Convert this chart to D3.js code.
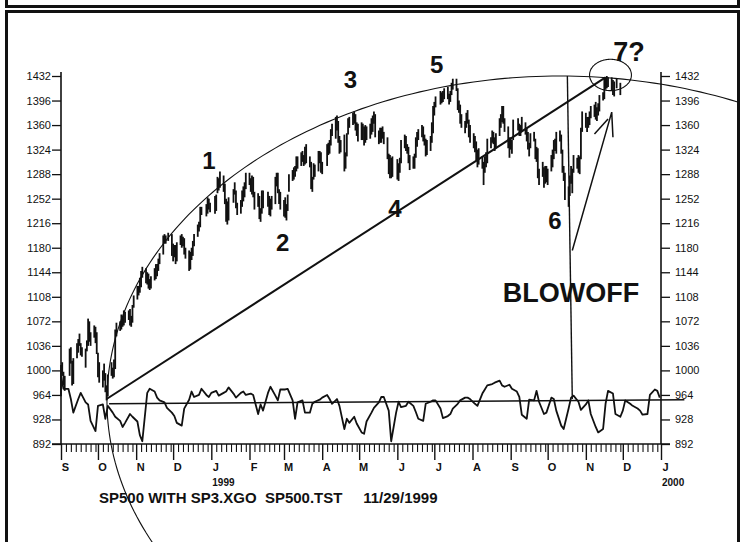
<!DOCTYPE html>
<html>
<head>
<meta charset="utf-8">
<script src="https://cdn.jsdelivr.net/npm/d3@7"></script>
<style>
  body { margin: 0; background: #fff; }
  svg { display: block; }
  text { font-family: 'Liberation Sans Narrow', 'Arial Narrow', 'Liberation Sans', Arial, sans-serif; fill: #111; }
</style>
</head>
<body>
<div id="chart"></div>
<script>
(function(d3) {
  'use strict';

  // daily highs / lows, Sep 1998 - Dec 1998 (one line per month)
  var hi98 = [
    1008,1012,998,992,1032,1034,1014,1018,1040,1046,1054,1040,1034,1032,1044,1076,1072,1056,1066,1064,1056,
    1026,1012,1000,1010,996,978,994,1012,1004,1016,1060,1070,1072,1082,1080,1088,1086,1088,1090,1080,1096,1110,
    1124,1124,1136,1146,1152,1150,1144,1142,1134,1138,1150,1156,1156,1164,1172,1198,1200,1198,1202,1200,
    1186,1184,1184,1188,1198,1200,1196,1194,1180,1176,1174,1180,1190,1200,1214,1218,1240,1240,1244,1254,1252,1246
  ];
  var lo98 = [
    962,992,978,970,992,1010,978,980,1018,1026,1036,1022,1020,1004,1028,1036,1042,1036,1048,1040,1024,
    990,982,975,985,968,956,962,992,988,990,1002,1050,1058,1060,1064,1066,1070,1074,1066,1064,1070,1092,
    1104,1110,1114,1122,1136,1128,1126,1120,1118,1120,1132,1134,1138,1146,1156,1170,1186,1186,1190,1168,
    1160,1166,1156,1160,1184,1180,1182,1170,1164,1146,1148,1162,1168,1182,1196,1204,1210,1228,1226,1230,1236,1232
  ];
  // daily highs / lows, Jan 1999 - Nov 1999
  var hi99 = [
    1256,1258,1284,1282,1292,1286,1274,1252,1248,1254,1266,1276,1264,1246,1250,1264,1270,1276,1290,
    1290,1282,1286,1284,1262,1260,1256,1238,1264,1264,1262,1256,1252,1256,1284,1290,1290,1266,1262,
    1250,1254,1244,1258,1288,1294,1298,1300,1314,1314,1320,1322,1316,1328,1332,1314,1306,1284,1304,1302,1322,1322,1320,
    1306,1332,1334,1338,1354,1362,1372,1374,1366,1344,1338,1346,1320,1348,1370,1372,1378,1380,1376,1364,1362,
    1364,1362,1358,1360,1358,1362,1370,1374,1380,1376,1352,1356,1356,1358,1350,1342,1318,1316,1312,1314,
    1310,1304,1312,1338,1346,1344,1332,1328,1316,1314,1318,1342,1350,1354,1360,1358,1346,1340,1338,1344,1364,1388,
    1394,1402,1410,1408,1410,1414,1416,1406,1410,1422,1428,1428,1414,1396,1390,1376,1366,1378,1382,1368,1360,
    1348,1344,1336,1324,1326,1314,1306,1314,1320,1340,1342,1352,1350,1342,1348,1370,1376,1388,1388,1370,1358,1342,
    1342,1338,1368,1370,1362,1360,1372,1364,1356,1350,1334,1348,1350,1340,1328,1326,1296,1306,1298,1300,1300,
    1296,1316,1324,1338,1340,1350,1352,1346,1324,1300,1290,1270,1286,1300,1296,1316,1312,1316,1314,1356,1380,
    1378,1372,1372,1380,1388,1390,1394,1386,1392,1404,1408,1428,1430,1432,1430,1430,1426,1424,1428,1422
  ];
  var lo99 = [
    1230,1234,1260,1264,1268,1262,1244,1218,1214,1220,1246,1258,1238,1228,1230,1240,1248,1254,1266,
    1272,1262,1258,1254,1236,1240,1222,1218,1230,1238,1240,1228,1226,1236,1244,1270,1260,1244,1236,
    1226,1224,1220,1234,1262,1278,1280,1284,1292,1296,1300,1306,1300,1302,1304,1298,1266,1262,1280,1284,1292,1304,1290,
    1288,1300,1316,1318,1330,1344,1340,1352,1334,1318,1320,1292,1296,1314,1346,1356,1360,1362,1352,1344,1336,
    1338,1338,1330,1334,1338,1340,1346,1350,1362,1342,1332,1334,1334,1340,1332,1310,1288,1282,1282,1284,
    1280,1278,1290,1304,1326,1322,1318,1304,1294,1296,1296,1312,1328,1338,1342,1336,1330,1314,1316,1322,1334,1348,
    1374,1386,1390,1392,1394,1398,1398,1390,1394,1404,1412,1410,1382,1378,1362,1356,1348,1356,1362,1342,1334,
    1326,1320,1308,1298,1302,1296,1272,1290,1298,1304,1326,1334,1332,1322,1326,1344,1356,1364,1362,1350,1326,1312,
    1324,1318,1338,1352,1344,1344,1350,1346,1336,1324,1314,1326,1336,1310,1306,1282,1272,1284,1268,1274,1276,
    1272,1292,1298,1310,1322,1318,1336,1318,1290,1278,1250,1240,1256,1274,1260,1290,1296,1290,1288,1310,1350,
    1356,1350,1356,1360,1370,1372,1368,1366,1374,1380,1396,1398,1412,1414,1416,1410,1404,1402,1414,1404
  ];
  var holidays = ['1998-09-07','1998-11-26','1998-12-25','1999-01-01','1999-01-18','1999-02-15',
                  '1999-04-02','1999-05-31','1999-07-05','1999-09-06','1999-11-25'];

  // oscillator, one value every second weekday, Sep 1 1998 - Dec 31 1999
  var osc = [
    992,973,973,958,938,958,967,953,950,926,911,948,950,929,948,938,932,926,917,923,
    936,932,925,905,896,967,973,969,960,956,953,945,938,933,923,919,944,957,969,961,
    964,973,964,961,967,970,963,967,969,975,966,960,967,969,964,966,964,936,950,941,
    967,976,963,956,972,972,973,956,929,953,956,938,938,951,954,957,960,964,958,951,
    958,948,914,929,923,932,922,909,907,925,938,945,953,961,961,941,896,938,954,946,
    948,954,948,939,929,926,951,954,956,956,944,930,933,936,944,951,956,960,960,958,
    951,948,966,972,978,980,982,985,978,976,979,973,969,961,935,929,957,956,970,954,
    936,938,960,958,941,919,914,944,960,963,954,942,950,956,936,917,909,914,951,970,
    966,936,932,941,956,951,948,944,941,935,936,964,972,970,960
  ];

  var yTicks = [892,928,964,1000,1036,1072,1108,1144,1180,1216,1252,1288,1324,1360,1396,1432];
  var monthLetters = ['S','O','N','D','J','F','M','A','M','J','J','A','S','O','N','D','J'];
  var yearLabels = ['1999','2000'];
  var yearDates = ['1999-01-01','2000-01-01'];

  // hand drawn annotations, in date / price units
  var waveText = ['1','2','3','4','5','6','7?'];
  var waveDates = ['1998-12-30','1999-02-28','1999-04-24','1999-05-30','1999-07-03','1999-10-07','1999-12-06'];
  var waveValues = [1295,1175,1414,1225,1436,1208,1454];
  var trendLine = [['1998-10-08',958],['1999-11-17',1430]];
  var baseLine = [['1998-10-10',951],['2000-01-20',957]];
  var blowoffLine = [['1999-10-17',1432],['1999-10-21',958]];
  var arrowLine = [['1999-10-21',1176],['1999-11-22',1379],['1999-11-23',1342]];
  var arrowTick = [['1999-11-08',1347],['1999-11-19',1369]];
  var bigArc = { date: '1999-10-11', value: 955.5, days: 367.7, points: 476.5 };
  var topRing = { date: '1999-11-21', value: 1433.5, days: 17, points: 23 };

  var width = 745;
  var height = 542;
  var parse = d3.timeParse('%Y-%m-%d');
  var fmt = d3.timeFormat('%Y-%m-%d');
  var narrow = "'Liberation Sans Narrow','Arial Narrow','Liberation Sans',Arial,sans-serif";

  var svg = d3.select('#chart')
    .append('svg')
    .attr('width', width)
    .attr('height', height);

  svg.append('rect').attr('width', width).attr('height', height).attr('fill', '#fff');

  svg.append('defs').append('clipPath').attr('id', 'panel')
    .append('rect').attr('x', 8).attr('y', 13).attr('width', 729).attr('height', 540);

  // page frames
  svg.append('rect')
    .attr('x', 6.5).attr('y', -12).attr('width', 732).attr('height', 18.5)
    .attr('fill', 'none').attr('stroke', '#111').attr('stroke-width', 3);
  svg.append('rect')
    .attr('x', 6.5).attr('y', 11.5).attr('width', 732).attr('height', 545)
    .attr('fill', 'none').attr('stroke', '#111').attr('stroke-width', 3);

  var x = d3.scaleTime()
    .domain([new Date(1998, 8, 1), new Date(2000, 0, 1)])
    .range([61, 661]);
  var y = d3.scaleLinear()
    .domain([892, 1432])
    .range([444, 76]);

  // trading days
  var tradeDays = d3.timeDays(new Date(1998, 8, 1), new Date(1999, 10, 30))
    .filter(function(d) {
      var w = d.getDay();
      return w > 0 && w < 6 && holidays.indexOf(fmt(d)) < 0;
    });
  var highs = hi98.concat(hi99);
  var lows = lo98.concat(lo99);
  var bars = tradeDays.map(function(d, i) {
    return { date: d, hi: highs[i], lo: lows[i] };
  }).filter(function(d) { return d.hi != null; });

  var weekdays = d3.timeDays(new Date(1998, 8, 1), new Date(2000, 0, 1))
    .filter(function(d) { var w = d.getDay(); return w > 0 && w < 6; });
  var oscData = osc.map(function(v, i) {
    return { date: weekdays[Math.min(i * 2, weekdays.length - 1)], value: v };
  });

  // axes
  var yl = svg.append('g')
    .attr('transform', 'translate(61,0)')
    .call(d3.axisLeft(y).tickValues(yTicks).tickFormat(d3.format('d'))
      .tickSize(9).tickSizeOuter(0).tickPadding(1));
  var yr = svg.append('g')
    .attr('transform', 'translate(661,0)')
    .call(d3.axisRight(y).tickValues(yTicks).tickFormat(d3.format('d'))
      .tickSize(9).tickSizeOuter(0).tickPadding(5));
  [yl, yr].forEach(function(g) {
    g.select('.domain').remove();
    g.selectAll('line').attr('stroke', '#111').attr('stroke-width', 1.3);
    g.selectAll('text').attr('font-size', 11).attr('fill', '#111').style('font-family', narrow);
  });
  [61, 661].forEach(function(px) {
    svg.append('line').attr('x1', px).attr('x2', px).attr('y1', y(1438)).attr('y2', y(892))
      .attr('stroke', '#111').attr('stroke-width', 1.6);
  });

  var months = d3.timeMonth.range(new Date(1998, 8, 1), new Date(2000, 0, 2));
  var minor = d3.timeDay.every(4).range(new Date(1998, 8, 1), new Date(2000, 0, 1))
    .filter(function(d) { return d.getDate() !== 1; });

  var xMinor = svg.append('g')
    .attr('transform', 'translate(0,' + y(892) + ')')
    .call(d3.axisBottom(x).tickValues(minor).tickSize(8).tickSizeOuter(0).tickFormat(''));
  xMinor.select('.domain').remove();
  xMinor.selectAll('line').attr('stroke', '#111').attr('stroke-width', 1.1);

  var xMajor = svg.append('g')
    .attr('transform', 'translate(0,' + y(892) + ')')
    .call(d3.axisBottom(x).tickValues(months).tickSize(16).tickSizeOuter(0).tickPadding(3)
      .tickFormat(function(d, i) { return monthLetters[i]; }));
  xMajor.select('.domain').remove();
  xMajor.selectAll('line').attr('stroke', '#111').attr('stroke-width', 1.4);
  xMajor.selectAll('text').attr('x', 4).attr('font-size', 11).attr('font-weight', 'bold')
    .attr('fill', '#111').style('font-family', narrow);

  svg.append('line')
    .attr('x1', 52).attr('x2', 670).attr('y1', y(892)).attr('y2', y(892))
    .attr('stroke', '#111').attr('stroke-width', 1.6);

  svg.selectAll('.year')
    .data(yearLabels)
    .enter()
    .append('text')
    .attr('class', 'year')
    .attr('x', function(d, i) { return x(parse(yearDates[i])) + 1; })
    .attr('y', 486)
    .attr('font-size', 10)
    .attr('font-weight', 'bold')
    .text(function(d) { return d; });

  svg.append('text')
    .attr('x', 99).attr('y', 503)
    .attr('font-size', 15).attr('font-weight', 'bold')
    .style('white-space', 'pre')
    .text('SP500 WITH SP3.XGO  SP500.TST     11/29/1999');

  // price bars
  svg.append('g')
    .selectAll('line')
    .data(bars)
    .enter()
    .append('line')
    .attr('x1', function(d) { return x(d.date); })
    .attr('x2', function(d) { return x(d.date); })
    .attr('y1', function(d) { return y(d.hi); })
    .attr('y2', function(d) { return y(d.lo); })
    .attr('stroke', '#111')
    .attr('stroke-width', 1.8);

  // oscillator
  var line = d3.line()
    .x(function(d) { return x(d.date); })
    .y(function(d) { return y(d.value); });
  svg.append('path')
    .datum(oscData)
    .attr('d', line)
    .attr('fill', 'none')
    .attr('stroke', '#111')
    .attr('stroke-width', 1.8)
    .attr('stroke-linejoin', 'round');

  // annotations
  var ann = svg.append('g').attr('clip-path', 'url(#panel)');
  var seg = d3.line()
    .x(function(d) { return x(parse(d[0])); })
    .y(function(d) { return y(d[1]); });

  function drawPath(pts, w) {
    ann.append('path').attr('d', seg(pts))
      .attr('fill', 'none').attr('stroke', '#111').attr('stroke-width', w);
  }
  drawPath(trendLine, 2);
  drawPath(baseLine, 1.4);
  drawPath(blowoffLine, 1.4);
  drawPath(arrowLine, 1.5);
  drawPath(arrowTick, 1.5);

  function ellipse(e) {
    var c = parse(e.date);
    var pts = d3.range(0, 361, 1).map(function(a) {
      var t = a * Math.PI / 180;
      return [d3.timeHour.offset(c, Math.round(e.days * 24 * Math.cos(t))),
              e.value + e.points * Math.sin(t)];
    });
    return d3.line()
      .x(function(d) { return x(d[0]); })
      .y(function(d) { return y(d[1]); })(pts);
  }
  ann.append('path').attr('d', ellipse(bigArc))
    .attr('fill', 'none').attr('stroke', '#111').attr('stroke-width', 1.1);
  ann.append('path').attr('d', ellipse(topRing))
    .attr('fill', 'none').attr('stroke', '#111').attr('stroke-width', 1.1);

  svg.selectAll('.wave')
    .data(waveText)
    .enter()
    .append('text')
    .attr('class', 'wave')
    .attr('x', function(d, i) { return x(parse(waveDates[i])); })
    .attr('y', function(d, i) { return y(waveValues[i]); })
    .attr('text-anchor', 'middle')
    .attr('font-size', function(d) { return d === '7?' ? 27 : 24; })
    .attr('font-weight', 'bold')
    .style('font-family', "'Liberation Sans', Arial, sans-serif")
    .text(function(d) { return d; });

  svg.append('text')
    .attr('x', x(parse('1999-10-20')))
    .attr('y', y(1100))
    .attr('text-anchor', 'middle')
    .attr('font-size', 27)
    .attr('font-weight', 'bold')
    .style('font-family', "'Liberation Sans', Arial, sans-serif")
    .text('BLOWOFF');

})(window.d3);
</script>
</body>
</html>
